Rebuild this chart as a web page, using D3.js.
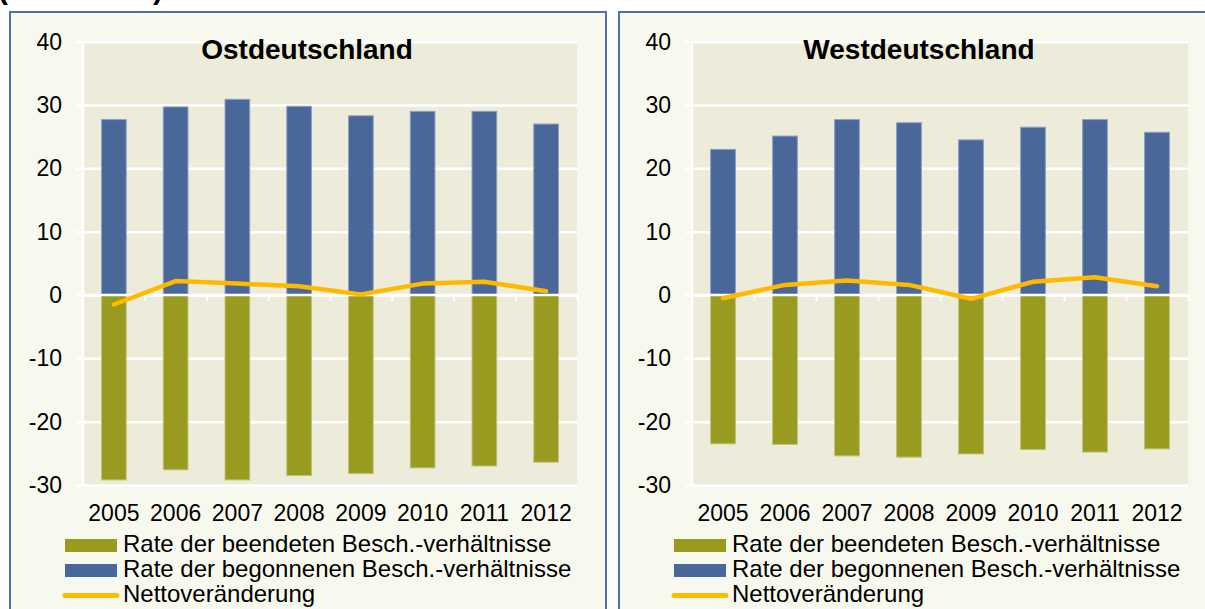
<!DOCTYPE html>
<html><head><meta charset="utf-8">
<script src="https://cdn.jsdelivr.net/npm/d3@7"></script>
<style>
html,body{margin:0;padding:0;background:#fff;overflow:hidden;}
svg{display:block;font-family:"Liberation Sans",Arial,sans-serif;}
</style></head>
<body>
<svg id="c" width="1205" height="609"></svg>
<script>
const years = ["2005","2006","2007","2008","2009","2010","2011","2012"];
const yTicks = [-30,-20,-10,0,10,20,30,40];
const seriesNames = ["Rate der beendeten Besch.-verhältnisse","Rate der begonnenen Besch.-verhältnisse","Nettoveränderung"];
const ostTitle = "Ostdeutschland";
const ostBegonnen = [27.7,29.7,30.9,29.8,28.3,29.0,29.0,27.0];
const ostBeendet  = [-29.2,-27.6,-29.2,-28.5,-28.2,-27.3,-27.0,-26.4];
const ostNetto    = [-1.5,2.2,1.8,1.4,0.1,1.8,2.1,0.6];
const westTitle = "Westdeutschland";
const westBegonnen = [23.0,25.1,27.7,27.2,24.5,26.5,27.7,25.7];
const westBeendet  = [-23.5,-23.6,-25.4,-25.6,-25.1,-24.4,-24.8,-24.3];
const westNetto    = [-0.5,1.6,2.3,1.6,-0.6,2.1,2.8,1.4];

const C = {blue:"#4a6799", blueEdge:"#8ea0c4", olive:"#999b20", oliveEdge:"#c2c37a",
  orange:"#ffba00", plotBg:"#edebda", panelBg:"#f8f9ee", border:"#4f6fa6"};

const svg = d3.select("#c");

// header text, cut off at the top edge as in the reference
svg.append("text").attr("x",-2).attr("y",-1).attr("font-size",30).attr("font-weight","bold")
  .attr("fill","#000").text("(in Prozent)");

function panel(opt){
  const g = svg.append("g");
  g.append("rect").attr("x",opt.px).attr("y",12).attr("width",opt.pw).attr("height",640)
    .attr("fill",C.panelBg).attr("stroke",C.border).attr("stroke-width",2);
  const L = opt.left, R = opt.right, T = 41.7, B = 485;
  const x = d3.scaleBand().domain(years).range([L,R]).paddingInner(0.6).paddingOuter(0.3);
  const y = d3.scaleLinear().domain([-30,40]).range([B,T]);
  g.append("rect").attr("x",L).attr("y",T).attr("width",R-L).attr("height",B-T).attr("fill",C.plotBg);
  const ya = g.append("g").attr("transform",`translate(${L},0)`)
    .call(d3.axisLeft(y).tickValues(yTicks).tickSize(7).tickPadding(14).tickFormat(d=>String(d)));
  ya.select(".domain").remove();
  ya.selectAll(".tick line").attr("stroke","#fff").attr("stroke-width",2.5);
  ya.selectAll(".tick text").attr("font-size",23).attr("fill","#000").attr("font-family","Liberation Sans, Arial, sans-serif");
  const grid = g.append("g").attr("transform",`translate(${L},0)`)
    .call(d3.axisLeft(y).tickValues(yTicks).tickSize(-(R-L)).tickFormat(""));
  grid.select(".domain").remove();
  grid.selectAll(".tick line").attr("stroke","#fff").attr("stroke-width",2.5);
  g.append("line").attr("x1",L).attr("x2",L).attr("y1",T).attr("y2",B).attr("stroke","#fff").attr("stroke-width",2.5);
  g.selectAll(".pos").data(opt.beg).join("rect")
    .attr("x",(d,i)=>x(years[i])).attr("width",x.bandwidth())
    .attr("y",d=>y(d)).attr("height",d=>y(0)-y(d))
    .attr("fill",C.blue).attr("stroke",C.blueEdge).attr("stroke-width",1);
  g.selectAll(".neg").data(opt.end).join("rect")
    .attr("x",(d,i)=>x(years[i])).attr("width",x.bandwidth())
    .attr("y",y(0)).attr("height",d=>y(d)-y(0))
    .attr("fill",C.olive).attr("stroke",C.oliveEdge).attr("stroke-width",1);
  const xb = d3.scaleLinear().domain([0,years.length]).range([L,R]);
  const za = g.append("g").attr("transform",`translate(0,${y(0)})`)
    .call(d3.axisBottom(xb).tickValues(d3.range(1,years.length+1)).tickSize(6).tickFormat(""));
  za.select(".domain").attr("stroke","#fff").attr("stroke-width",2.5).attr("d",`M${L},0H${R}`);
  za.selectAll(".tick line").attr("stroke","#fff").attr("stroke-width",2);
  const xa = g.append("g").attr("transform",`translate(0,504)`)
    .call(d3.axisBottom(x).tickSize(0).tickPadding(0));
  xa.select(".domain").remove();
  xa.selectAll(".tick text").attr("font-size",23).attr("fill","#000").attr("dy","0.72em")
    .attr("font-family","Liberation Sans, Arial, sans-serif");
  const line = d3.line().x((d,i)=>x(years[i])+x.bandwidth()/2).y(d=>y(d));
  g.append("path").datum(opt.net).attr("d",line).attr("fill","none")
    .attr("stroke",C.orange).attr("stroke-width",4.5).attr("stroke-linecap","round").attr("stroke-linejoin","round");
  g.append("text").attr("x",opt.tx).attr("y",59).attr("text-anchor","middle")
    .attr("font-size",28).attr("font-weight","bold").attr("fill","#000").text(opt.title);
  const lx = opt.left - 18;
  g.append("rect").attr("x",lx).attr("y",539).attr("width",52).attr("height",13).attr("fill",C.olive);
  g.append("rect").attr("x",lx).attr("y",564).attr("width",52).attr("height",13).attr("fill",C.blue);
  g.append("line").attr("x1",lx).attr("x2",lx+52).attr("y1",595.5).attr("y2",595.5)
    .attr("stroke",C.orange).attr("stroke-width",5).attr("stroke-linecap","round");
  [552,577,602].forEach((by,i)=>{
    g.append("text").attr("x",lx+58).attr("y",by).attr("font-size",24).attr("fill","#000").text(seriesNames[i]);
  });
}

panel({px:10,pw:596,left:83,right:577,tx:307,title:ostTitle,beg:ostBegonnen,end:ostBeendet,net:ostNetto});
panel({px:619,pw:600,left:692,right:1188,tx:919,title:westTitle,beg:westBegonnen,end:westBeendet,net:westNetto});
</script>
</body></html>
